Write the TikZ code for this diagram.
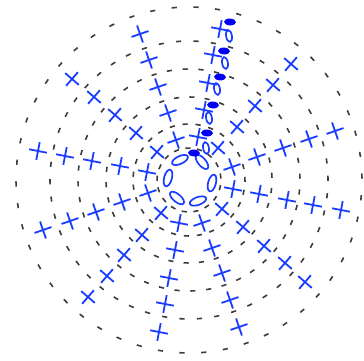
\documentclass[tikz,border=0pt]{standalone}
\definecolor{inkblue}{RGB}{25,60,255}
\definecolor{solidblue}{RGB}{0,0,245}
\definecolor{ringgray}{RGB}{60,60,60}
\tikzset{
  ringdash/.style={draw=ringgray,line width=1.6pt},
  crossline/.style={draw=inkblue,line width=1.8pt},
  openoval/.style={draw=inkblue,line width=1.7pt},
  solidoval/.style={fill=solidblue,draw=none}
}
\begin{document}
\begin{tikzpicture}[x=1pt,y=-1pt]
\useasboundingbox (0,0) rectangle (364,361);
% dashed rings: radius / count / phase (degrees clockwise from top)
\foreach \r/\n/\p in {173/50/2.3,139/50/2.9,111/44/-2,83/34/2,56/27/-4,32/17/-2}{
  \pgfmathsetmacro{\st}{360/\n}
  \pgfmathsetmacro{\h}{2.6/\r*57.3}
  \pgfmathsetmacro{\last}{\n-1}
  \foreach \k in {0,...,\last}{
    \pgfmathsetmacro{\a}{\p+\k*\st-90}
    \draw[ringdash,shift={(189,180)}] (\a-\h:\r) -- (\a+\h:\r);
  }
}
% crosses: x / y / spoke angle
\foreach \x/\y/\c in {
 140/34/341,149/60/341,158/87/341,168/113/341,176/140/341,
 220/29/11,213/55/11,208/83/11,204/110/11,198/137/11,
 291/64/41,273/85/41,255/106/41,237/127/41,218/148/41,
 335/131/71,309/139/71,283/148/71,257/157/71,232/167/71,
 341/210/101,313/205/101,287/200/101,259/194/101,233/189/101,
 305/282/131,285/263/131,264/246/131,243/227/131,222/209/131,
 239/327/161,230/300/161,222/273/161,212/248/161,202/223/161,
 159/332/191,165/304/191,169/278/191,175/250/191,179/223/191,
 88/297/221,107/276/221,124/255/221,142/235/221,161/213/221,
 43/230/251,70/221/251,96/212/251,122/202/251,148/193/251,
 38/151/281,65/156/281,92/161/281,120/166/281,147/172/281,
 72/79/311,94/97/311,115/115/311,136/133/311,157/152/311}{
  \draw[crossline,shift={(\x,\y)},rotate=-\c] (-9,0) -- (9,0) (0,-9) -- (0,9);
}
% open ovals of the innermost round: x / y / rotation
\foreach \x/\y/\c in {180/160/25,202/162/-50,212/183/75,198/201/20,177/198/-40,168/178/75}{
  \draw[openoval,shift={(\x,\y)},rotate=\c] (0,0) ellipse [x radius=8.6,y radius=3.9];
}
% open ovals along the first spoke
\foreach \x/\y/\c in {229/36/-80,225/63/-80,217/89/-80,209/118/-80,206/148/-80}{
  \draw[openoval,shift={(\x,\y)},rotate=\c] (0,0) ellipse [x radius=6,y radius=2.9];
}
% solid ovals along the first spoke
\foreach \x/\y in {230/22,224/51,220/77,213/105,207/133,194/153}{
  \fill[solidoval,shift={(\x,\y)},rotate=-3] (0,0) ellipse [x radius=6,y radius=3.4];
}
\end{tikzpicture}
\end{document}
